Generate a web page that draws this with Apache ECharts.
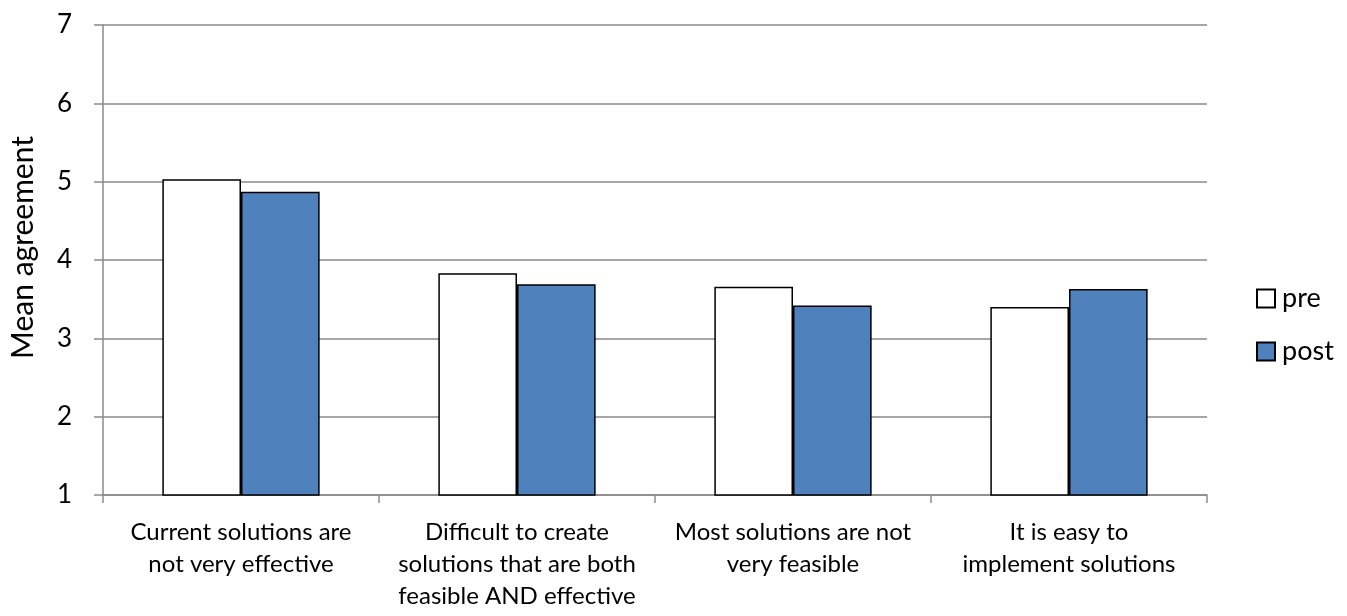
<!DOCTYPE html>
<html>
<head>
<meta charset="utf-8">
<script src="https://cdn.jsdelivr.net/npm/echarts@6/dist/echarts.min.js"></script>
<style>
  html, body { margin: 0; padding: 0; background: #fff; }
  #chart { width: 1347px; height: 616px; }
</style>
</head>
<body>
<div id="chart"></div>
<script>
// Survey statements (category axis)
const categories = [
  'Current solutions are\nnot very effective',
  'Difficult to create\nsolutions that are both\nfeasible AND effective',
  'Most solutions are not\nvery feasible',
  'It is easy to\nimplement solutions'
];

// Mean agreement before and after
const preValues = [5.03, 3.83, 3.66, 3.40];
const postValues = [4.87, 3.69, 3.42, 3.63];

// Value axis range
const yMin = 1;
const yMax = 7;
const yStep = 1;

const FONT = 'Lato, "Open Sans", sans-serif';
const GRID_GRAY = '#8a8a8a';

const chart = echarts.init(document.getElementById('chart'), null, { renderer: 'canvas' });

chart.setOption({
  animation: false,
  backgroundColor: '#ffffff',
  textStyle: { fontFamily: FONT, color: '#000' },
  grid: { left: 103, right: 140, top: 25, bottom: 121, containLabel: false },
  legend: {
    orient: 'vertical',
    left: 1251,
    top: 280,
    itemWidth: 18,
    itemHeight: 18,
    itemGap: 26,
    icon: 'rect',
    textStyle: { fontFamily: FONT, fontSize: 27, lineHeight: 27, color: '#000', padding: [0, 0, 0, 2] },
    data: ['pre', 'post']
  },
  xAxis: {
    type: 'category',
    data: categories,
    axisLine: { show: true, lineStyle: { color: GRID_GRAY, width: 1.5 } },
    axisTick: { show: true, alignWithLabel: false, length: 8, lineStyle: { color: GRID_GRAY, width: 1.5 } },
    axisLabel: {
      interval: 0,
      margin: 21,
      fontFamily: FONT,
      fontSize: 24,
      lineHeight: 32,
      color: '#000',
      align: 'center'
    },
    splitLine: { show: false }
  },
  yAxis: {
    type: 'value',
    min: yMin,
    max: yMax,
    interval: yStep,
    name: 'Mean agreement',
    nameLocation: 'middle',
    nameGap: 65,
    nameRotate: 90,
    nameTextStyle: { fontFamily: FONT, fontSize: 30, color: '#000', padding: [0, 0, 0, 25] },
    axisLine: { show: true, lineStyle: { color: GRID_GRAY, width: 1.5 } },
    axisTick: { show: true, length: 9, lineStyle: { color: GRID_GRAY, width: 1.5 } },
    axisLabel: { margin: 31, fontFamily: FONT, fontSize: 26, color: '#000' },
    splitLine: { show: true, lineStyle: { color: GRID_GRAY, width: 1.5 } }
  },
  series: [
    {
      name: 'pre',
      type: 'bar',
      data: preValues,
      barGap: '0%',
      barCategoryGap: '43%',
      itemStyle: { color: '#ffffff', borderColor: '#000000', borderWidth: 1.5 }
    },
    {
      name: 'post',
      type: 'bar',
      data: postValues,
      barGap: '0%',
      barCategoryGap: '43%',
      itemStyle: { color: '#4f81bd', borderColor: '#000000', borderWidth: 1.5 }
    }
  ]
});
</script>
</body>
</html>
